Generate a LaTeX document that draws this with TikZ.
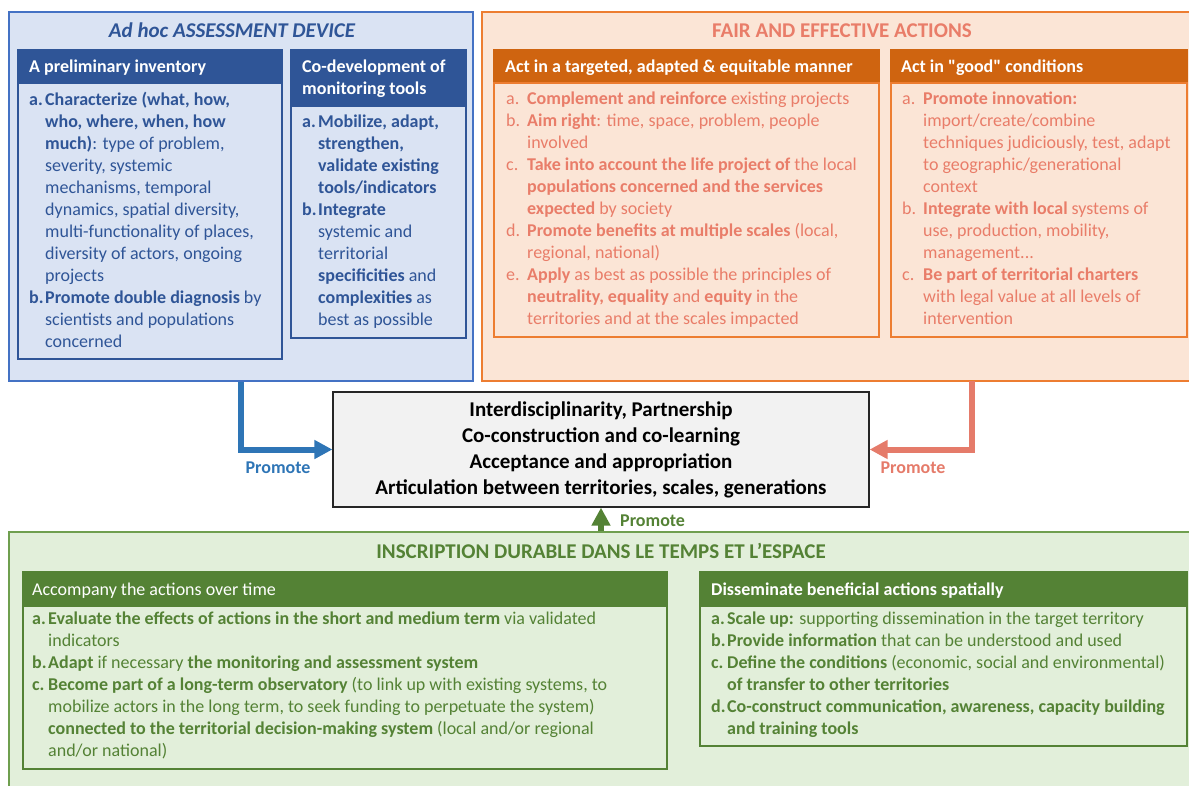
\documentclass[tikz,border=0pt]{standalone}
\usepackage{fontspec}
\setmainfont{Carlito}
\usetikzlibrary{arrows.meta}
\definecolor{adhocblue}{HTML}{2F5597}
\definecolor{adhocfill}{HTML}{DAE3F3}
\definecolor{adhocline}{HTML}{4472C4}
\definecolor{promoteblue}{HTML}{2E75B6}
\definecolor{fairfill}{HTML}{FBE5D6}
\definecolor{fairline}{HTML}{ED7D31}
\definecolor{fairhead}{HTML}{CF6410}
\definecolor{fairtext}{HTML}{E97D69}
\definecolor{promotesalmon}{HTML}{E57B6A}
\definecolor{durablefill}{HTML}{E2EFDA}
\definecolor{durableline}{HTML}{6F9F4F}
\definecolor{durablegreen}{HTML}{548235}
\definecolor{corefill}{HTML}{F2F2F2}
\newcommand{\lbl}[2][16pt]{\makebox[#1][l]{#2}}
\newcommand{\ind}[1][16pt]{\hspace*{#1}}
\newcommand{\straightquote}{{\addfontfeatures{Ligatures=TeXOff}"}}
\begin{document}
\begin{tikzpicture}[x=1pt, y=-1pt,
  panel/.style={draw, line width=1.5pt, inner sep=0pt},
  bodytext/.style={anchor=north west, inner sep=0pt, align=left,
    font=\fontsize{18}{22}\selectfont, execute at begin node=\strut},
  headtext/.style={anchor=west, inner sep=0pt, text=white,
    font=\fontsize{18}{22}\selectfont\bfseries},
  titletext/.style={inner sep=0pt, font=\fontsize{21}{25}\selectfont\bfseries},
  promote/.style={line width=6pt, -{Triangle[length=18pt,width=18pt]}},
  promotelabel/.style={inner sep=0pt, font=\fontsize{18}{22}\selectfont\bfseries}]
  \clip (0,0) rectangle (1189,785);
  % assessment device
  \node[panel, draw=adhocline, fill=adhocfill, minimum width=464pt, minimum height=369pt] (adhoc) at (241,196.5) {};
  \node[titletext, text=adhocblue, font=\fontsize{21}{25}\selectfont\bfseries\itshape] (adhoctitle) at (232,30) {Ad hoc ASSESSMENT DEVICE};
  \node[panel, draw=adhocblue, fill=adhocblue, minimum width=264pt, minimum height=33pt] (invhead) at (150,66.5) {};
  \node[panel, draw=adhocblue, minimum width=264pt, minimum height=276pt] (invbody) at (150,221) {};
  \node[panel, draw=adhocblue, fill=adhocblue, minimum width=175pt, minimum height=56pt] (codevhead) at (378.5,78) {};
  \node[panel, draw=adhocblue, minimum width=175pt, minimum height=232pt] (codevbody) at (378.5,222) {};
  \node[headtext] (invtitle) at (29,68) {A preliminary inventory};
  \node[bodytext, text=white, font=\fontsize{18}{22}\selectfont\bfseries] (codevtitle) at (302,59.6) {Co-development of\\monitoring tools};
  \node[bodytext, text=adhocblue] (invtext) at (29,91.6) {%
    \lbl{\textbf{a.}}\textbf{Characterize (what, how,}\\
    \ind\textbf{who, where, when, how}\\
    \ind\textbf{much)}: type of problem,\\
    \ind severity, systemic\\
    \ind mechanisms, temporal\\
    \ind dynamics, spatial diversity,\\
    \ind multi-functionality of places,\\
    \ind diversity of actors, ongoing\\
    \ind projects\\
    \lbl{\textbf{b.}}\textbf{Promote double diagnosis} by\\
    \ind scientists and populations\\
    \ind concerned};
  \node[bodytext, text=adhocblue] (codevtext) at (302,114.6) {%
    \lbl{\textbf{a.}}\textbf{Mobilize, adapt,}\\
    \ind\textbf{strengthen,}\\
    \ind\textbf{validate existing}\\
    \ind\textbf{tools/indicators}\\
    \lbl{\textbf{b.}}\textbf{Integrate}\\
    \ind systemic and\\
    \ind territorial\\
    \ind\textbf{specificities} and\\
    \ind\textbf{complexities} as\\
    \ind best as possible};
  % fair and effective actions
  \node[panel, draw=fairline, fill=fairfill, minimum width=728pt, minimum height=369pt] (fair) at (846,196.5) {};
  \node[titletext, text=fairtext] (fairtitle) at (842,31) {FAIR AND EFFECTIVE ACTIONS};
  \node[panel, draw=fairhead, fill=fairhead, minimum width=385pt, minimum height=33pt] (tgthead) at (686.5,66.5) {};
  \node[panel, draw=fairline, minimum width=385pt, minimum height=254pt] (tgtbody) at (686.5,210) {};
  \node[panel, draw=fairhead, fill=fairhead, minimum width=296pt, minimum height=33pt] (goodhead) at (1039,66.5) {};
  \node[panel, draw=fairline, minimum width=296pt, minimum height=254pt] (goodbody) at (1039,210) {};
  \node[headtext] (tgttitle) at (505,68) {Act in a targeted, adapted \& equitable manner};
  \node[headtext] (goodtitle) at (901,68) {Act in \straightquote good\straightquote{} conditions};
  \node[bodytext, text=fairtext] (tgttext) at (506,91.6) {%
    \lbl[21pt]{a.}\textbf{Complement and reinforce} existing projects\\
    \lbl[21pt]{b.}\textbf{Aim right}: time, space, problem, people\\
    \ind[21pt]involved\\
    \lbl[21pt]{c.}\textbf{Take into account the life project of} the local\\
    \ind[21pt]\textbf{populations concerned and the services}\\
    \ind[21pt]\textbf{expected} by society\\
    \lbl[21pt]{d.}\textbf{Promote benefits at multiple scales} (local,\\
    \ind[21pt]regional, national)\\
    \lbl[21pt]{e.}\textbf{Apply} as best as possible the principles of\\
    \ind[21pt]\textbf{neutrality, equality} and \textbf{equity} in the\\
    \ind[21pt]territories and at the scales impacted};
  \node[bodytext, text=fairtext] (goodtext) at (902,91.6) {%
    \lbl[21pt]{a.}\textbf{Promote innovation:}\\
    \ind[21pt]import/create/combine\\
    \ind[21pt]techniques judiciously, test, adapt\\
    \ind[21pt]to geographic/generational\\
    \ind[21pt]context\\
    \lbl[21pt]{b.}\textbf{Integrate with local} systems of\\
    \ind[21pt]use, production, mobility,\\
    \ind[21pt]management...\\
    \lbl[21pt]{c.}\textbf{Be part of territorial charters}\\
    \ind[21pt]with legal value at all levels of\\
    \ind[21pt]intervention};
  % core
  \node[draw=black!85, line width=1.2pt, fill=corefill, minimum width=536pt, minimum height=115pt,
    align=center, font=\fontsize{21}{26}\selectfont\bfseries] (core) at (601,449.5)
    {Interdisciplinarity, Partnership\\Co-construction and co-learning\\Acceptance and appropriation\\Articulation between territories, scales, generations};
  % durable inscription
  \node[panel, draw=durableline, fill=durablefill, minimum width=1201pt, minimum height=268pt] (durable) at (609.5,666) {};
  \node[titletext, text=durablegreen] (durabletitle) at (601,551) {INSCRIPTION DURABLE DANS LE TEMPS ET L’ESPACE};
  \node[panel, draw=durablegreen, fill=durablegreen, minimum width=644pt, minimum height=34pt] (overtimehead) at (345,589) {};
  \node[panel, draw=durablegreen, minimum width=644pt, minimum height=163pt] (overtimebody) at (345,687.5) {};
  \node[panel, draw=durablegreen, fill=durablegreen, minimum width=487pt, minimum height=34pt] (spatialhead) at (943.5,589) {};
  \node[panel, draw=durablegreen, minimum width=487pt, minimum height=140pt] (spatialbody) at (943.5,676) {};
  \node[headtext, font=\fontsize{18}{22}\selectfont] (overtimetitle) at (32,591) {Accompany the actions over time};
  \node[headtext] (spatialtitle) at (711,591) {Disseminate beneficial actions spatially};
  \node[bodytext, text=durablegreen] (overtimetext) at (32,611.6) {%
    \lbl{\textbf{a.}}\textbf{Evaluate the effects of actions in the short and medium term} via validated\\
    \ind indicators\\
    \lbl{\textbf{b.}}\textbf{Adapt} if necessary \textbf{the monitoring and assessment system}\\
    \lbl{\textbf{c.}}\textbf{Become part of a long-term observatory} (to link up with existing systems, to\\
    \ind mobilize actors in the long term, to seek funding to perpetuate the system)\\
    \ind\textbf{connected to the territorial decision-making system} (local and/or regional\\
    \ind and/or national)};
  \node[bodytext, text=durablegreen] (spatialtext) at (711,611.6) {%
    \lbl{\textbf{a.}}\textbf{Scale up:} supporting dissemination in the target territory\\
    \lbl{\textbf{b.}}\textbf{Provide information} that can be understood and used\\
    \lbl{\textbf{c.}}\textbf{Define the conditions} (economic, social and environmental)\\
    \ind\textbf{of transfer to other territories}\\
    \lbl{\textbf{d.}}\textbf{Co-construct communication, awareness, capacity building}\\
    \ind\textbf{and training tools}};
  % promote arrows
  \coordinate (fairfoot) at (972,381);
  \draw[promote, promoteblue] (adhoc.south) |- (core.west);
  \draw[promote, promotesalmon] (fairfoot) |- (core.east);
  \draw[promote, durablegreen] (core.south |- durable.north) -- (core.south);
  \node[promotelabel, text=promoteblue] (bluelabel) at (278,468) {Promote};
  \node[promotelabel, text=promotesalmon] (salmonlabel) at (913,468) {Promote};
  \node[promotelabel, text=durablegreen, anchor=west] (greenlabel) at (620,521) {Promote};
\end{tikzpicture}
\end{document}
